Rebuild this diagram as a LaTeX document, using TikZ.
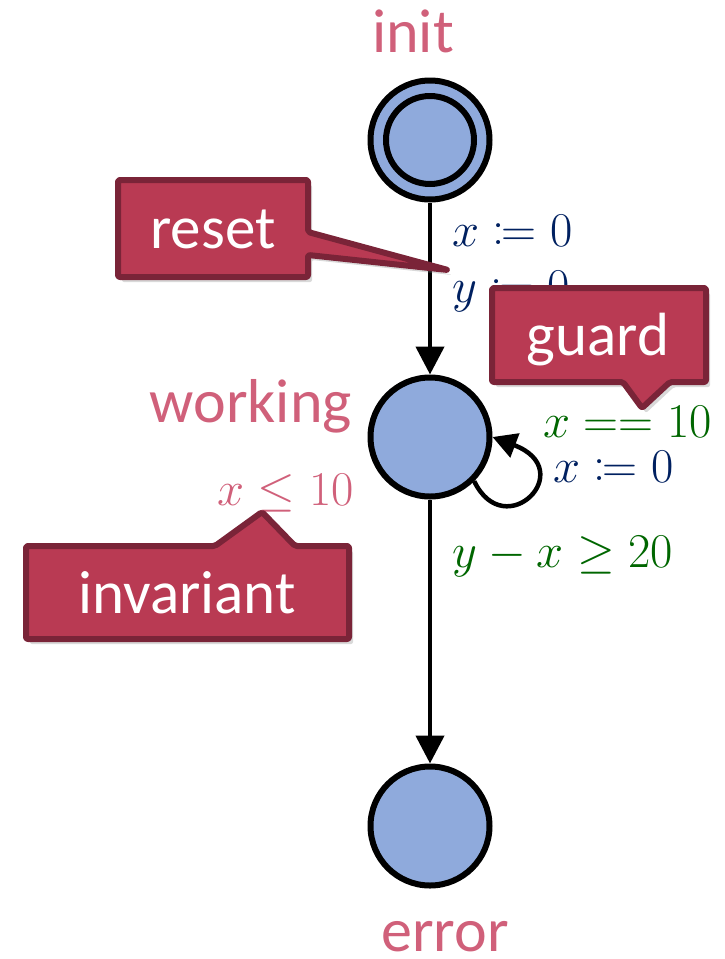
\documentclass[tikz,border=0pt]{standalone}
\usepackage{mathtools}
\usepackage{fontspec}
\setmainfont{Carlito}
\usetikzlibrary{arrows.meta,shadows}
\definecolor{lblpink}{RGB}{208,96,122}
\definecolor{statefill}{RGB}{143,170,220}
\definecolor{callfill}{RGB}{185,58,83}
\definecolor{calldraw}{RGB}{122,36,56}
\definecolor{resetblue}{RGB}{0,32,96}
\definecolor{guardgreen}{RGB}{0,102,0}
\begin{document}
\begin{tikzpicture}[x=1pt,y=-1pt,
  statenode/.style={circle,draw=black,fill=statefill,line width=6pt,minimum size=119pt,inner sep=0pt},
  innerring/.style={circle,draw=black,line width=6pt,minimum size=88pt,inner sep=0pt},
  edge/.style={line width=4.5pt,-{Triangle[length=28pt,width=28pt]}},
  loopedge/.style={line width=4.5pt,-{Triangle[length=24pt,width=25pt]}},
  statelabel/.style={text=lblpink,font=\fontsize{62}{70}\selectfont,inner sep=0pt},
  mathlbl/.style={font=\fontsize{24.88}{30}\selectfont,scale=1.95,inner sep=0pt},
  callshape/.style={fill=callfill,draw=calldraw,line width=6pt,line join=round,rounded corners=2pt,
     drop shadow={opacity=0.3,shadow xshift=4pt,shadow yshift=-5pt}},
  calltext/.style={text=white,font=\fontsize{61}{70}\selectfont,inner sep=0pt}]
\useasboundingbox (0,0) rectangle (725,959);
% states
\node[statenode] (init) at (430,140) {};
\node[innerring] (initin) at (init.center) {};
\node[statenode] (working) at (430,437) {};
\node[statenode] (error) at (430,826) {};
% state labels
\node[statelabel,anchor=base] (initlbl) at (413,52) {init};
\node[statelabel,anchor=base east] (worklbl) at (352,422) {working};
\node[statelabel,anchor=base,text depth=0pt] (errlbl) at (445,951) {error};
\node[mathlbl,text=lblpink,anchor=base west] (inv) at (217,505) {$x \leq 10$};
% edges
\draw[edge] (init) -- (working);
\draw[edge] (working) -- (error);
\draw[loopedge] (working.-45) .. controls (505,545) and (580,470) .. (working.east);
% edge labels
\node[mathlbl,text=resetblue,anchor=base west] (r1) at (452,246) {$x \coloneqq 0$};
\node[mathlbl,text=resetblue,anchor=base west] (r2) at (452,302) {$y \coloneqq 0$};
\node[mathlbl,text=guardgreen,anchor=base west] (g1) at (543,437) {$x == 10$};
\node[mathlbl,text=resetblue,anchor=base west] (r3) at (553,482) {$x \coloneqq 0$};
\node[mathlbl,text=guardgreen,anchor=base west] (g2) at (452,567) {$y - x \geq 20$};
% callouts
\path[callshape] (118,180) -- (308,180) -- (308,232) -- (448,270) -- (308,255) -- (308,277) -- (118,277) -- cycle;
\node[calltext,anchor=base] (resettxt) at (213,248) {reset};
\path[callshape] (492,288) -- (706,288) -- (706,382) -- (670,382) -- (642,408) -- (623,382) -- (492,382) -- cycle;
\node[calltext,anchor=base] (guardtxt) at (598,355) {guard};
\path[callshape] (26,546) -- (215,546) -- (262,512) -- (295,546) -- (349,546) -- (349,639) -- (26,639) -- cycle;
\node[calltext,anchor=base] (invtxt) at (187,613) {invariant};
\end{tikzpicture}
\end{document}
